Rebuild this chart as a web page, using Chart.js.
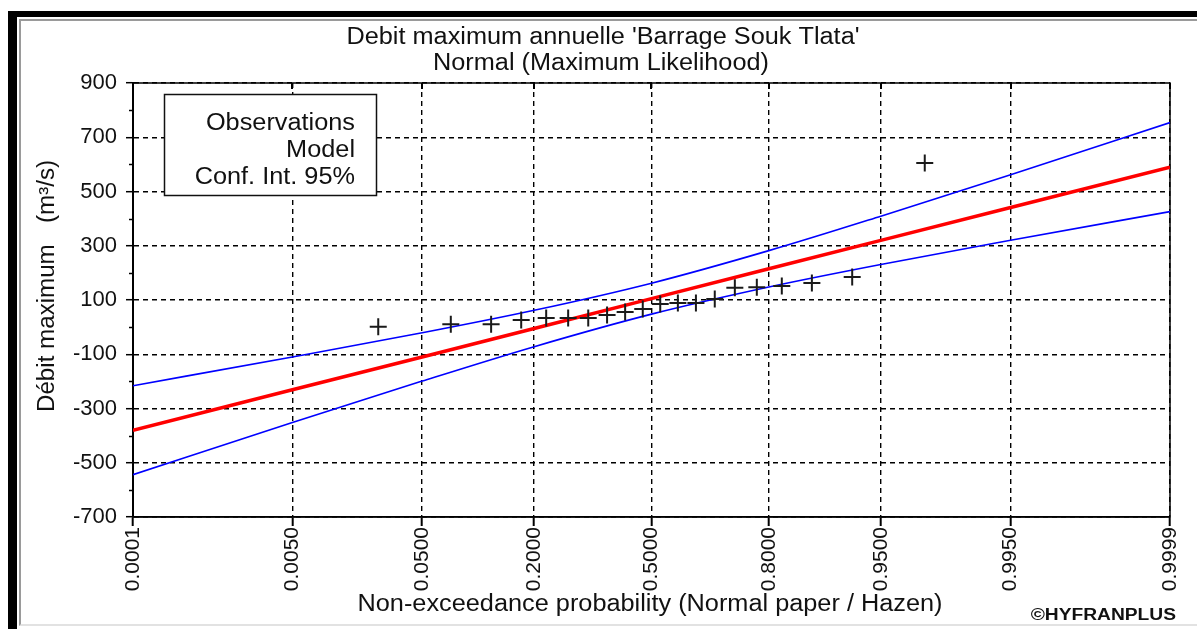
<!DOCTYPE html>
<html>
<head>
<meta charset="utf-8">
<script src="https://cdn.jsdelivr.net/npm/chart.js@4.4.1/dist/chart.umd.min.js"></script>
<style>
  html, body { margin: 0; padding: 0; background: #fff; }
  body { width: 1197px; height: 629px; position: relative; overflow: hidden; }
  .cadre-noir { position: absolute; left: 8px; top: 11px; right: 0; bottom: 0; border-top: 6px solid #000; border-left: 9px solid #000; }
  .cadre-gris { position: absolute; left: 19px; top: 19px; right: 0; bottom: 3px; border-top: 2px solid #9a9a9a; border-left: 2px solid #9a9a9a; border-bottom: 2px solid #e2e2e2; }
  #graphique { position: absolute; left: 0; top: 0; }
</style>
</head>
<body>
<div class="cadre-noir"></div>
<div class="cadre-gris"></div>
<canvas id="graphique" width="1197" height="629"></canvas>
<script>
// Observations (positions de Hazen)
const probObs = [0.025, 0.075, 0.125, 0.175, 0.225, 0.275, 0.325, 0.375, 0.425, 0.475,
                 0.525, 0.575, 0.625, 0.675, 0.725, 0.775, 0.825, 0.875, 0.925, 0.975];
const debitObs = [1, 11, 11, 26, 34, 34, 34, 45, 56, 67,
                  85, 89, 89, 104, 145, 147, 152, 163, 185, 605];

// Modele et intervalle de confiance 95%, lus aux probabilites des graduations
const probCourbe = [0.0001, 0.005, 0.05, 0.2, 0.5, 0.8, 0.95, 0.995, 0.9999];
const modele = [-380, -231, -110, -5, 105, 215, 320, 441, 590];
const icSup = [-216, -110, -21, 62, 162, 282, 409, 562, 754];
const icInf = [-544, -352, -199, -72, 48, 148, 231, 320, 426];

// Graduations
const probTicks = [0.0001, 0.005, 0.05, 0.2, 0.5, 0.8, 0.95, 0.995, 0.9999];
const labelsTicks = ['0.0001', '0.0050', '0.0500', '0.2000', '0.5000', '0.8000', '0.9500', '0.9950', '0.9999'];
const yMin = -700, yMax = 900, yPas = 200;

// papier normal : probabilite -> variable reduite (Acklam)
function probit(p) {
  const a = [-3.969683028665376e+01, 2.209460984245205e+02, -2.759285104469687e+02, 1.383577518672690e+02, -3.066479806614716e+01, 2.506628277459239e+00];
  const b = [-5.447609879822406e+01, 1.615858368580409e+02, -1.556989798598866e+02, 6.680131188771972e+01, -1.328068155288572e+01];
  const c = [-7.784894002430293e-03, -3.223964580411365e-01, -2.400758277161838e+00, -2.549732539343734e+00, 4.374664141464968e+00, 2.938163982698783e+00];
  const d = [7.784695709041462e-03, 3.224671290700398e-01, 2.445134137142996e+00, 3.754408661907416e+00];
  const pl = 0.02425;
  if (p < pl) {
    const q = Math.sqrt(-2 * Math.log(p));
    return (((((c[0]*q+c[1])*q+c[2])*q+c[3])*q+c[4])*q+c[5]) / ((((d[0]*q+d[1])*q+d[2])*q+d[3])*q+1);
  }
  if (p > 1 - pl) {
    const q = Math.sqrt(-2 * Math.log(1 - p));
    return -(((((c[0]*q+c[1])*q+c[2])*q+c[3])*q+c[4])*q+c[5]) / ((((d[0]*q+d[1])*q+d[2])*q+d[3])*q+1);
  }
  const q = p - 0.5, r = q * q;
  return (((((a[0]*r+a[1])*r+a[2])*r+a[3])*r+a[4])*r+a[5])*q / (((((b[0]*r+b[1])*r+b[2])*r+b[3])*r+b[4])*r+1);
}

function texte(ctx, s, x, y, police, align, etire, angle) {
  ctx.save();
  ctx.translate(x, y);
  if (angle) ctx.rotate(angle);
  ctx.scale(etire, 1);
  ctx.font = police;
  ctx.textAlign = align;
  ctx.textBaseline = 'middle';
  ctx.fillStyle = '#111';
  ctx.fillText(s, 0, 0);
  ctx.restore();
}

const habillage = {
  id: 'habillage',
  beforeDatasetsDraw(chart) {
    const ctx = chart.ctx;
    const ca = chart.chartArea;
    const sx = chart.scales.x, sy = chart.scales.y;
    ctx.save();
    ctx.strokeStyle = '#000';
    // graduations interieures en haut
    ctx.lineWidth = 2;
    probTicks.forEach(p => {
      const px = Math.round(sx.getPixelForValue(probit(p)));
      ctx.beginPath(); ctx.moveTo(px, ca.top); ctx.lineTo(px, ca.top + 6); ctx.stroke();
    });
    // graduations secondaires sur l'axe Y
    ctx.lineWidth = 1.5;
    for (let v = yMin + yPas / 2; v < yMax; v += yPas) {
      const py = Math.round(sy.getPixelForValue(v)) + 0.5;
      ctx.beginPath(); ctx.moveTo(ca.left - 4, py); ctx.lineTo(ca.left, py); ctx.stroke();
    }
    // cadre
    ctx.lineWidth = 1.5;
    ctx.strokeRect(ca.left, ca.top, ca.right - ca.left, ca.bottom - ca.top);
    ctx.restore();
  },
  afterDraw(chart) {
    const ctx = chart.ctx;
    const f = 'Liberation Sans, Arial, sans-serif';
    texte(ctx, "Debit maximum annuelle 'Barrage Souk Tlata'", 603, 38, '23px ' + f, 'center', 1.1);
    texte(ctx, 'Normal (Maximum Likelihood)', 601, 64, '23px ' + f, 'center', 1.1);
    texte(ctx, 'Non-exceedance probability (Normal paper / Hazen)', 650, 605, '23px ' + f, 'center', 1.1);
    texte(ctx, 'Débit maximum', 48, 412, '23px ' + f, 'left', 1.05, -Math.PI / 2);
    texte(ctx, '(m³/s)', 48, 160, '23px ' + f, 'right', 1.05, -Math.PI / 2);
    texte(ctx, '©HYFRANPLUS', 1176, 616, 'bold 16px ' + f, 'right', 1.2);

    // cartouche de legende
    ctx.save();
    ctx.fillStyle = '#fff';
    ctx.fillRect(164, 94, 212, 101);
    ctx.strokeStyle = '#111';
    ctx.lineWidth = 1.5;
    ctx.strokeRect(164.5, 94.5, 212, 101);
    ctx.restore();
    texte(ctx, 'Observations', 355, 124, '23px ' + f, 'right', 1.1);
    texte(ctx, 'Model', 355, 151, '23px ' + f, 'right', 1.1);
    texte(ctx, 'Conf. Int. 95%', 355, 178, '23px ' + f, 'right', 1.1);
  }
};

const courbe = vals => probCourbe.map((p, i) => ({ x: probit(p), y: vals[i] }));

new Chart(document.getElementById('graphique'), {
  type: 'scatter',
  data: {
    datasets: [
      {
        label: 'Observations',
        data: probObs.map((p, i) => ({ x: probit(p), y: debitObs[i] })),
        pointStyle: 'cross',
        pointRadius: 8.5,
        borderColor: '#1a1a1a',
        borderWidth: 2,
        showLine: false
      },
      {
        label: 'Model',
        data: courbe(modele),
        showLine: true,
        borderColor: '#ff0000',
        borderWidth: 3.5,
        pointRadius: 0
      },
      {
        label: 'Conf. Int. 95% sup',
        data: courbe(icSup),
        showLine: true,
        cubicInterpolationMode: 'monotone',
        borderColor: '#0000ff',
        borderWidth: 1.6,
        pointRadius: 0
      },
      {
        label: 'Conf. Int. 95% inf',
        data: courbe(icInf),
        showLine: true,
        cubicInterpolationMode: 'monotone',
        borderColor: '#0000ff',
        borderWidth: 1.6,
        pointRadius: 0
      }
    ]
  },
  options: {
    responsive: false,
    animation: false,
    devicePixelRatio: 1,
    layout: { padding: { left: 0, top: 83, right: 27, bottom: 0 } },
    plugins: {
      legend: { display: false },
      tooltip: { enabled: false },
      title: { display: false }
    },
    scales: {
      x: {
        type: 'linear',
        min: probit(probTicks[0]),
        max: probit(probTicks[probTicks.length - 1]),
        afterBuildTicks: s => { s.ticks = probTicks.map(p => ({ value: probit(p) })); },
        afterFit: s => { s.height = 112; },
        ticks: {
          autoSkip: false,
          maxRotation: 90,
          minRotation: 90,
          padding: 1,
          color: '#111',
          font: { family: 'Liberation Sans', size: 21 },
          callback: (v, i) => labelsTicks[i]
        },
        grid: { color: '#000', lineWidth: 1.4, tickLength: 9, tickColor: '#000', tickWidth: 2 },
        border: { display: true, color: '#000', width: 1.5, dash: [5, 4] }
      },
      y: {
        min: yMin,
        max: yMax,
        afterFit: s => { s.width = 133; },
        ticks: {
          stepSize: yPas,
          padding: 9,
          color: '#111',
          font: { family: 'Liberation Sans', size: 22 }
        },
        grid: { color: '#000', lineWidth: 1.4, tickLength: 7, tickColor: '#000', tickWidth: 1.5 },
        border: { display: true, color: '#000', width: 2, dash: [5, 4] }
      }
    }
  },
  plugins: [habillage]
});
</script>
</body>
</html>
